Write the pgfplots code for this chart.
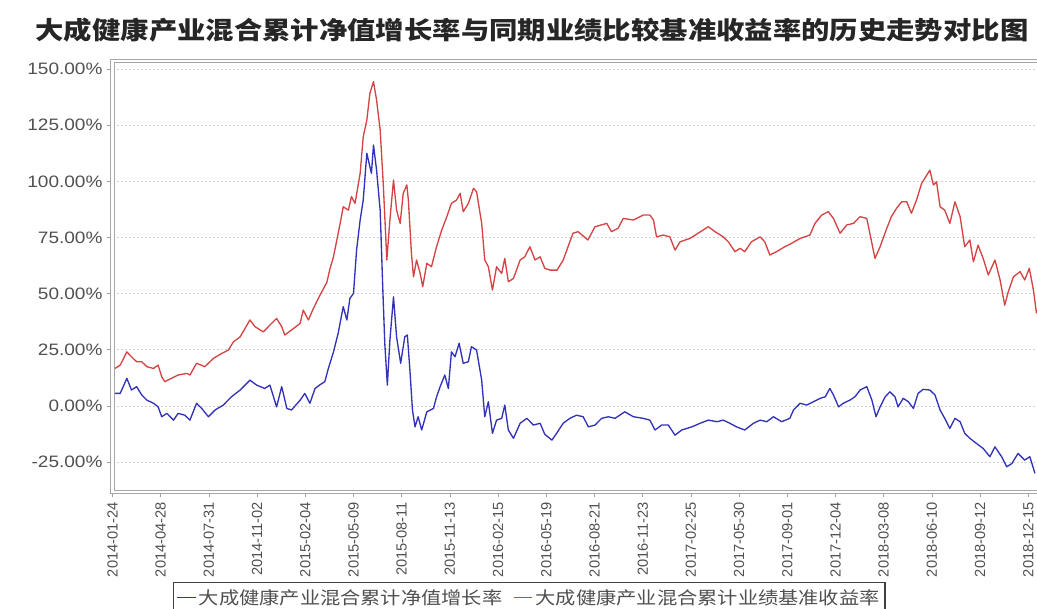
\documentclass[border=0pt]{standalone}
\usepackage{fontspec}
\setmainfont{Liberation Sans}
\newfontfamily\ylabfont{Liberation Sans}[FakeStretch=1.15]
\newfontfamily\cjk{Noto Sans CJK SC}[FakeStretch=1.15]
\usepackage{pgfplots}
\pgfplotsset{compat=1.18}
\definecolor{serblue}{RGB}{50,50,185}
\definecolor{serred}{RGB}{212,68,68}
\definecolor{labgray}{RGB}{80,80,80}
\begin{document}
\begin{tikzpicture}
\path[use as bounding box] (0pt,0pt) rectangle (777.75pt,456.75pt);
\node[font=\cjk\bfseries\fontsize{18.5}{20}\selectfont, text=black!85] at (399pt,434.25pt) {大成健康产业混合累计净值增长率与同期业绩比较基准收益率的历史走势对比图};
\begin{axis}[
  at={(84.375pt,87.75pt)}, anchor=south west,
  scale only axis, width=699.375pt, height=323.25pt,
  xmin=0, xmax=1818.6, ymin=-38.3, ymax=153.6,
  axis line style={draw=gray!70, line width=0.7pt, double=white, double distance=2.2pt},
  xtick={0,94,188,282,376,470,564,658,752,846,940,1034,1128,1222,1316,1410,1504,1598,1692,1786},
  xticklabels={2014-01-24,2014-04-28,2014-07-31,2014-11-02,2015-02-04,2015-05-09,2015-08-11,2015-11-13,2016-02-15,2016-05-19,2016-08-21,2016-11-23,2017-02-25,2017-05-30,2017-09-01,2017-12-04,2018-03-08,2018-06-10,2018-09-12,2018-12-15},
  ytick={-25,0,25,50,75,100,125,150},
  yticklabels={-25.00\%,0.00\%,25.00\%,50.00\%,75.00\%,100.00\%,125.00\%,150.00\%},
  xtick pos=bottom, ytick pos=left,
  tick align=outside, major tick length=4pt,
  tick style={gray!75, line width=0.6pt},
  xticklabel style={rotate=90, anchor=east, font=\fontsize{11}{13}\selectfont, text=labgray},
  yticklabel style={anchor=east, font=\ylabfont\fontsize{12.4}{14}\selectfont, text=labgray},
  ymajorgrids,
  grid style={gray!35, line width=0.6pt, dash pattern=on 1.5pt off 1.5pt},
  legend style={at={(0.0649,-0.2088)}, anchor=north west, draw=black!75, line width=0.9pt,
    font=\cjk\fontsize{13.2}{15}\selectfont, text=labgray, inner xsep=2pt, inner ysep=3pt},
  legend cell align=left,
  legend columns=2,
  /tikz/every even column/.append style={column sep=6pt},
  legend image code/.code={\draw[#1, line width=0.9pt] (0pt,0pt) -- (14pt,0pt);},
]
\addplot[serblue, line width=1pt, line join=round] coordinates {
(5,5.6)(15,5.6)(28,12.3)(37,7.1)(47,8.6)(57,4.9)(67,2.6)(80,1.2)(89,-0.4)(96,-4.8)
(106,-3.3)(119,-6.3)(128,-3.3)(141,-4.1)(151,-6.3)(164,1.2)(174,-1.1)(187,-4.8)(200,-1.8)(216,0.4)
(232,4.1)(249,7.1)(268,11.5)(281,9.3)(297,7.8)(307,9.3)(320,-0.4)(330,8.6)(340,-1.1)(349,-1.8)
(366,2.6)(375,5.6)(385,1.2)(395,7.8)(405,9.5)(414,10.8)(421,16.7)(431,24.1)(440,32.3)(450,44.2)
(457,38.3)(463,47.9)(470,50.1)(476,69.4)(483,82.8)(489,91.7)(496,112.5)(502,106.5)(505,103.6)(509,116.2)
(515,105.0)(522,87.2)(527,53.1)(531,27.9)(536,9.3)(541,29.3)(548,48.6)(554,30.8)(562,19.0)(570,30.8)
(575,31.6)(580,16.0)(585,-1.8)(590,-9.3)(596,-4.8)(603,-10.7)(613,-2.6)(626,-1.1)(632,4.1)(639,8.6)
(648,13.8)(655,7.8)(661,24.1)(668,21.9)(676,27.9)(684,19.0)(694,19.7)(700,26.4)(710,24.9)(720,11.5)
(726,-4.8)(733,1.9)(741,-12.2)(749,-6.3)(759,-5.5)(765,0.4)(772,-10.7)(782,-14.4)(795,-7.7)(808,-5.5)
(821,-8.5)(834,-7.7)(843,-12.6)(857,-15.2)(866,-12.2)(879,-7.7)(892,-5.5)(905,-4.1)(918,-4.8)(928,-9.3)
(941,-8.5)(954,-5.5)(967,-4.8)(980,-5.5)(999,-2.6)(1016,-4.8)(1035,-5.5)(1048,-6.3)(1058,-10.7)(1071,-8.5)
(1084,-8.5)(1097,-13.0)(1110,-10.7)(1130,-9.3)(1146,-7.7)(1162,-6.3)(1179,-7.0)(1191,-6.3)(1204,-7.7)(1217,-9.3)
(1233,-10.7)(1250,-7.7)(1263,-6.3)(1276,-7.0)(1289,-4.8)(1305,-7.0)(1321,-5.5)(1328,-1.8)(1341,1.2)(1354,0.4)
(1367,1.9)(1380,3.4)(1390,4.1)(1399,7.8)(1406,4.9)(1416,-0.4)(1425,1.2)(1438,2.6)(1448,4.1)(1458,7.1)
(1471,8.6)(1481,2.6)(1489,-4.8)(1497,-0.4)(1507,4.1)(1516,6.3)(1526,4.1)(1532,-0.4)(1542,3.4)(1552,1.9)
(1562,-1.1)(1571,5.6)(1581,7.4)(1594,7.1)(1604,4.9)(1614,-1.8)(1623,-5.5)(1633,-10.0)(1643,-5.5)(1653,-7.0)
(1662,-12.2)(1672,-14.4)(1685,-16.7)(1698,-18.9)(1711,-22.6)(1721,-18.2)(1734,-22.6)(1744,-27.1)(1754,-25.6)(1766,-21.1)
(1779,-24.1)(1789,-22.6)(1799,-30.0)
};
\addlegendentry{大成健康产业混合累计净值增长率}
\addplot[serred, line width=1pt, line join=round] coordinates {
(5,16.7)(15,18.2)(28,24.1)(37,21.9)(47,19.7)(57,19.7)(67,17.5)(80,16.7)(89,18.2)(96,13.0)
(102,10.8)(115,12.3)(128,13.8)(145,14.5)(151,13.8)(164,19.0)(180,17.5)(197,21.2)(213,23.4)(226,24.9)
(236,28.6)(249,30.8)(268,38.3)(278,35.3)(294,33.0)(307,36.0)(320,39.0)(330,35.3)(336,31.6)(349,33.8)
(366,36.8)(372,42.7)(382,38.3)(392,43.5)(405,49.5)(418,55.0)(424,61.0)(431,66.4)(444,81.3)(450,88.7)
(460,87.2)(466,93.2)(473,90.2)(483,103.6)(489,119.9)(496,127.3)(502,139.2)(509,144.4)(515,136.2)(522,122.9)
(528,99.1)(535,65.0)(541,82.8)(548,100.6)(554,87.2)(561,81.3)(567,94.7)(574,98.4)(577,91.7)(583,67.9)
(587,57.5)(593,65.0)(600,59.0)(605,53.1)(613,63.5)(622,62.0)(632,70.9)(642,78.3)(652,84.3)(661,90.2)
(671,91.7)(678,94.7)(684,86.5)(694,90.2)(704,96.9)(710,95.4)(720,81.3)(726,65.0)(733,62.0)(741,51.6)
(749,62.0)(759,59.0)(765,65.7)(772,55.3)(782,56.8)(795,65.0)(804,66.4)(814,70.9)(824,65.0)(834,66.4)
(843,61.3)(853,60.5)(867,60.5)(879,65.0)(898,76.9)(908,77.6)(927,73.9)(941,79.8)(964,81.3)(973,77.6)
(986,79.1)(996,83.5)(1016,82.8)(1035,85.0)(1048,85.0)(1055,82.8)(1061,75.3)(1074,76.1)(1087,75.3)(1097,69.4)
(1107,73.1)(1126,74.6)(1142,76.9)(1162,79.8)(1175,77.6)(1191,75.3)(1201,73.1)(1214,68.7)(1224,70.2)(1233,68.7)
(1246,73.1)(1263,75.3)(1272,73.1)(1282,67.2)(1295,68.7)(1311,70.9)(1321,72.0)(1341,74.6)(1360,76.1)(1370,81.3)
(1383,85.0)(1396,86.5)(1406,83.5)(1419,76.9)(1432,80.6)(1445,81.3)(1458,84.3)(1471,83.5)(1477,76.9)(1487,65.7)
(1497,70.9)(1510,79.1)(1519,84.3)(1529,88.0)(1539,90.9)(1549,90.9)(1558,85.8)(1568,91.7)(1578,99.1)(1588,102.8)
(1594,105.0)(1601,98.4)(1607,99.8)(1614,88.7)(1623,87.2)(1633,81.3)(1643,90.9)(1653,84.3)(1662,70.9)(1672,73.9)
(1679,64.2)(1688,71.6)(1698,65.7)(1708,58.3)(1721,65.0)(1731,56.1)(1740,44.9)(1747,50.9)(1757,57.5)(1770,59.8)
(1779,56.1)(1788,61.3)(1796,51.6)(1802,41.2)
};
\addlegendentry{大成健康产业混合累计业绩基准收益率}
\end{axis}
\end{tikzpicture}
\end{document}
